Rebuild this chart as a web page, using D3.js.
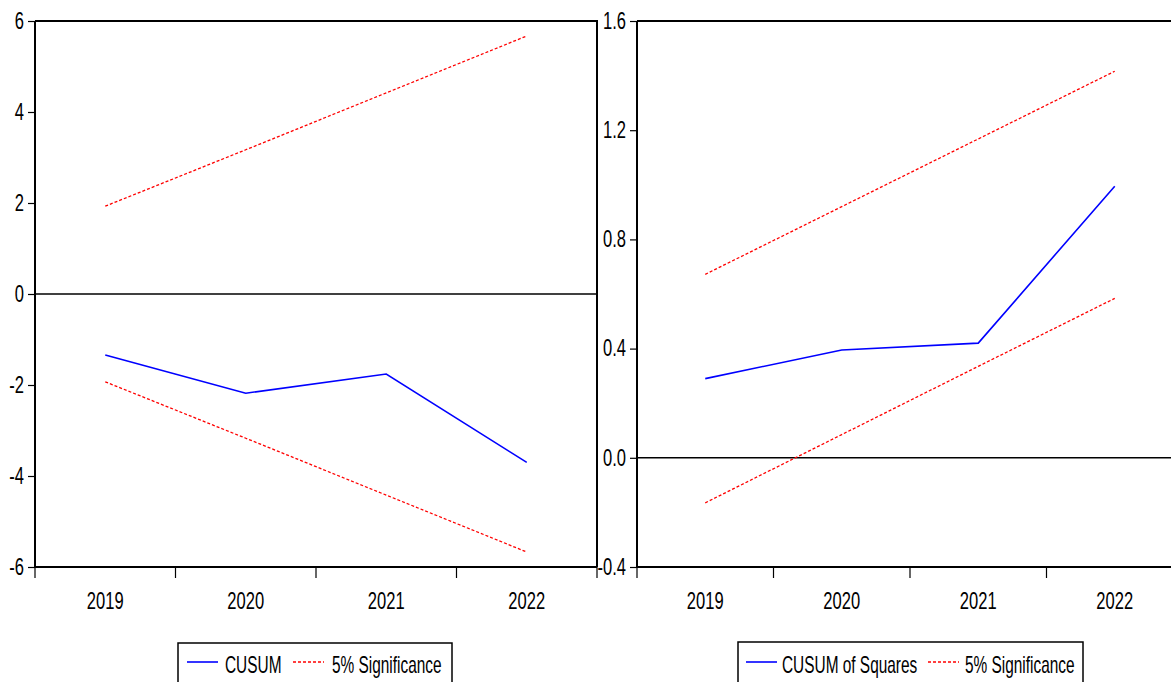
<!DOCTYPE html>
<html>
<head>
<meta charset="utf-8">
<script src="https://cdn.jsdelivr.net/npm/d3@7"></script>
<style>
html,body{margin:0;padding:0;background:#fff;overflow:hidden;}
svg{display:block;}
text{font-family:"Liberation Sans",Arial,sans-serif;font-size:23px;fill:#000;}
</style>
</head>
<body>
<svg id="chart" width="1171" height="682"></svg>
<script>
const years = ["2019","2020","2021","2022"];
const cusum = [-1.34, -2.18, -1.76, -3.70];
const cusumUpper = [1.93, 3.17, 4.42, 5.67];
const cusumLower = [-1.93, -3.17, -4.42, -5.67];
const cusumTicks = [-6, -4, -2, 0, 2, 4, 6];
const cusumsq = [0.29, 0.395, 0.42, 0.995];
const cusumsqUpper = [0.672, 0.92, 1.168, 1.416];
const cusumsqLower = [-0.165, 0.085, 0.335, 0.584];
const cusumsqTicks = [-0.4, 0.0, 0.4, 0.8, 1.2, 1.6];

const svg = d3.select("#chart");
const FONT = '"Liberation Sans",Arial,sans-serif';
const FS = "23px";

function condense(sel, s){
  sel.each(function(){
    const t = d3.select(this);
    const x = +t.attr("x") || 0, y = +t.attr("y") || 0;
    t.attr("x",0).attr("y",0).attr("transform",`translate(${x},${y}) scale(${s},1)`);
  });
}

function panel(opts){
  const {x0,x1,yTop,yBot,domain,ticks,fmt,main,upper,lower,legend} = opts;
  const g = svg.append("g");
  const x = d3.scaleBand().domain(years).range([x0,x1]).padding(0);
  const y = d3.scaleLinear().domain(domain).range([yBot,yTop]);
  const cx = d => x(d) + x.bandwidth()/2;

  g.append("path").attr("d",`M${x0},${yTop}H${x1}V${yBot}`)
    .attr("fill","none").attr("stroke","#000").attr("stroke-width",2);

  const ya = d3.axisLeft(y).tickValues(ticks).tickFormat(fmt).tickSize(7).tickPadding(4);
  const yg = g.append("g").attr("transform",`translate(${x0},0)`).call(ya);
  yg.select(".domain").attr("stroke","#000").attr("stroke-width",2).attr("d",`M0,${yTop}V${yBot}`);
  yg.selectAll(".tick line").attr("stroke","#000").attr("stroke-width",1.2);
  yg.selectAll("text").style("font-family",FONT).style("font-size",FS).attr("fill","#000");
  condense(yg.selectAll("text"), 0.72);

  const xa = d3.axisBottom(x).tickSize(0).tickPadding(26);
  const xg = g.append("g").attr("transform",`translate(0,${yBot})`).call(xa);
  xg.select(".domain").attr("stroke","#000").attr("stroke-width",2).attr("d",`M${x0},0H${x1}`);
  xg.selectAll("text").style("font-family",FONT).style("font-size",FS).attr("fill","#000");
  condense(xg.selectAll("text"), 0.72);
  const bounds = years.map(d=>x(d)).concat([x1]);
  g.selectAll(".xt").data(bounds).enter().append("line")
    .attr("x1",d=>d).attr("x2",d=>d).attr("y1",yBot).attr("y2",yBot+11)
    .attr("stroke","#000").attr("stroke-width",1.2);

  g.append("line").attr("x1",x0).attr("x2",x1).attr("y1",y(0)).attr("y2",y(0))
    .attr("stroke","#000").attr("stroke-width",1.5);

  const line = d3.line().x((d,i)=>cx(years[i])).y(d=>y(d));
  g.append("path").datum(upper).attr("d",line).attr("fill","none")
    .attr("stroke","#ff0000").attr("stroke-width",1.3).attr("stroke-dasharray","3,2");
  g.append("path").datum(lower).attr("d",line).attr("fill","none")
    .attr("stroke","#ff0000").attr("stroke-width",1.3).attr("stroke-dasharray","3,2");
  g.append("path").datum(main).attr("d",line).attr("fill","none")
    .attr("stroke","#0000ff").attr("stroke-width",1.6);

  const L = legend;
  const lg = svg.append("g");
  lg.append("rect").attr("x",L.bx).attr("y",L.by).attr("width",L.bw).attr("height",60)
    .attr("fill","none").attr("stroke","#000").attr("stroke-width",1.5);
  lg.append("line").attr("x1",L.l1).attr("x2",L.l1+31).attr("y1",L.ly).attr("y2",L.ly)
    .attr("stroke","#0000ff").attr("stroke-width",1.6);
  lg.append("line").attr("x1",L.l2).attr("x2",L.l2+31).attr("y1",L.ly).attr("y2",L.ly)
    .attr("stroke","#ff0000").attr("stroke-width",1.3).attr("stroke-dasharray","3,2");
  lg.append("text").attr("x",L.t1).attr("y",L.ly+11).style("font-size",FS).text(L.label1);
  lg.append("text").attr("x",L.t2).attr("y",L.ly+11).style("font-size",FS).text(L.label2);
  condense(lg.selectAll("text"), 0.67);
}

const hy = f => d => f(d).replace("\u2212","-");

panel({x0:35,x1:597,yTop:21,yBot:567,domain:[-6,6],ticks:cusumTicks,fmt:hy(d3.format("d")),
  main:cusum,upper:cusumUpper,lower:cusumLower,
  legend:{bx:178,by:643,bw:274,ly:662,l1:187,t1:225,l2:293,t2:332,label1:"CUSUM",label2:"5% Significance"}});

panel({x0:637,x1:1183,yTop:21,yBot:567,domain:[-0.4,1.6],ticks:cusumsqTicks,fmt:hy(d3.format(".1f")),
  main:cusumsq,upper:cusumsqUpper,lower:cusumsqLower,
  legend:{bx:738,by:642,bw:345,ly:662,l1:746,t1:782,l2:928,t2:965,label1:"CUSUM of Squares",label2:"5% Significance"}});
</script>
</body>
</html>
